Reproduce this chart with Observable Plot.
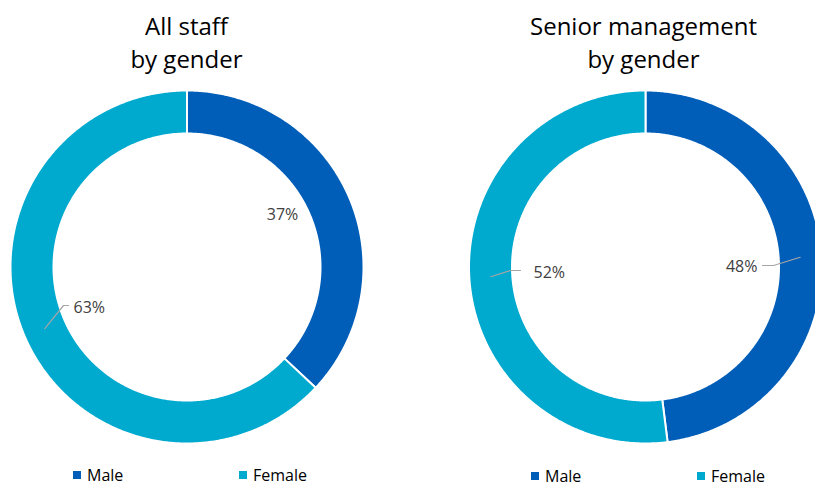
<!DOCTYPE html>
<html><head><meta charset="utf-8">
<script src="https://cdn.jsdelivr.net/npm/d3@7"></script>
<script src="https://cdn.jsdelivr.net/npm/@observablehq/plot@0.6"></script>
<style>
body{margin:0;background:#fff;}
#wrap{position:relative;width:815px;height:488px;overflow:hidden;font-family:"Open Sans",sans-serif;}
#wrap svg{position:absolute;left:0;top:0;}
.title{position:absolute;text-align:center;font-size:24px;line-height:33px;color:#000;width:360px;white-space:pre;}
.legend{position:absolute;font-size:16px;line-height:14px;height:14px;color:#000;white-space:nowrap;}
.sw{display:inline-block;width:8px;height:8px;margin-right:6px;vertical-align:2px;}
</style></head><body><div id="wrap"></div>
<script>
// ---- data ----
const genders = ["Male", "Female"];
const chartTitles = ["All staff\nby gender", "Senior management\nby gender"];
const allStaff = [37, 63];
const seniorManagement = [48, 52];

// ---- style / layout ----
const colors = ["#005EB8", "#00A9CE"];
const W = 815, H = 488;
const centers = [[186.5, 266.5], [645, 266.5]];
const R = 176.5, r = 133.5, leaderR = 155;
// label placement relative to each donut centre (text anchor point, elbow, leader end)
const labelLayout = [
  [{tx: 95.5, ty: -52.5, anchor: "middle"}, {tx: -113.5, ty: 40.5, anchor: "start", ex: -123.5, ey: 38.5, lx: -118.5}],
  [{tx: 112, ty: -0.5, anchor: "end", ex: 128, ey: -1.5, lx: 117}, {tx: -112, ty: 5.5, anchor: "start", ex: -135, ey: 3.5, lx: -125}]
];
const legendLayout = [
  {top: 468, items: [73, 239]},
  {top: 469, items: [531, 697]}
];
const titleLayout = [{cx: 186.5, top: 9}, {cx: 643.5, top: 9}];

const series = [allStaff, seniorManagement];

const pt = (c, rad, deg) => {
  const a = deg * Math.PI / 180;
  return [centers[c][0] + rad * Math.sin(a), centers[c][1] - rad * Math.cos(a)];
};

const polys = [];
const labels = [];
const leaders = [];
series.forEach((vals, c) => {
  const total = d3.sum(vals);
  let acc = 0;
  vals.forEach((v, i) => {
    const a0 = acc / total * 360, a1 = (acc + v) / total * 360;
    acc += v;
    const key = c + "-" + i;
    const n = Math.max(2, Math.ceil((a1 - a0) / 0.5));
    for (let k = 0; k <= n; k++) {
      const [x, y] = pt(c, R, a0 + (a1 - a0) * k / n);
      polys.push({key, gender: genders[i], x, y});
    }
    for (let k = n; k >= 0; k--) {
      const [x, y] = pt(c, r, a0 + (a1 - a0) * k / n);
      polys.push({key, gender: genders[i], x, y});
    }
    const L = labelLayout[c][i];
    const [cx, cy] = centers[c];
    labels.push({x: cx + L.tx, y: cy + L.ty, text: v + "%", anchor: L.anchor});
    if (L.ex !== undefined) {
      const [sx, sy] = pt(c, leaderR, (a0 + a1) / 2);
      leaders.push({key, x: sx, y: sy});
      leaders.push({key, x: cx + L.ex, y: cy + L.ey});
      leaders.push({key, x: cx + L.lx, y: cy + L.ey});
    }
  });
});

const plot = Plot.plot({
  width: W, height: H,
  margin: 0,
  x: {domain: [0, W], range: [0, W], axis: null},
  y: {domain: [0, H], range: [0, H], axis: null},
  color: {domain: genders, range: colors},
  style: {fontFamily: "'Open Sans', sans-serif", background: "transparent"},
  marks: [
    Plot.line(polys, {x: "x", y: "y", z: "key", fill: "gender", stroke: "white", strokeWidth: 2, curve: "linear-closed"}),
    Plot.line(leaders, {x: "x", y: "y", z: "key", stroke: "#a6a6a6", strokeWidth: 1.2}),
    Plot.text(labels.filter(d => d.anchor === "middle"), {x: "x", y: "y", text: "text", textAnchor: "middle", fontSize: 16, fill: "#404040"}),
    Plot.text(labels.filter(d => d.anchor === "start"), {x: "x", y: "y", text: "text", textAnchor: "start", fontSize: 16, fill: "#404040"}),
    Plot.text(labels.filter(d => d.anchor === "end"), {x: "x", y: "y", text: "text", textAnchor: "end", fontSize: 16, fill: "#404040"})
  ]
});

const wrap = document.getElementById("wrap");
wrap.appendChild(plot);

chartTitles.forEach((t, c) => {
  const d = document.createElement("div");
  d.className = "title";
  d.textContent = t;
  d.style.left = (titleLayout[c].cx - 180) + "px";
  d.style.top = titleLayout[c].top + "px";
  wrap.appendChild(d);
});

legendLayout.forEach(lg => {
  genders.forEach((g, i) => {
    const d = document.createElement("div");
    d.className = "legend";
    d.style.left = lg.items[i] + "px";
    d.style.top = lg.top + "px";
    const s = document.createElement("span");
    s.className = "sw";
    s.style.background = colors[i];
    d.appendChild(s);
    d.appendChild(document.createTextNode(g));
    wrap.appendChild(d);
  });
});
</script>
</body></html>
